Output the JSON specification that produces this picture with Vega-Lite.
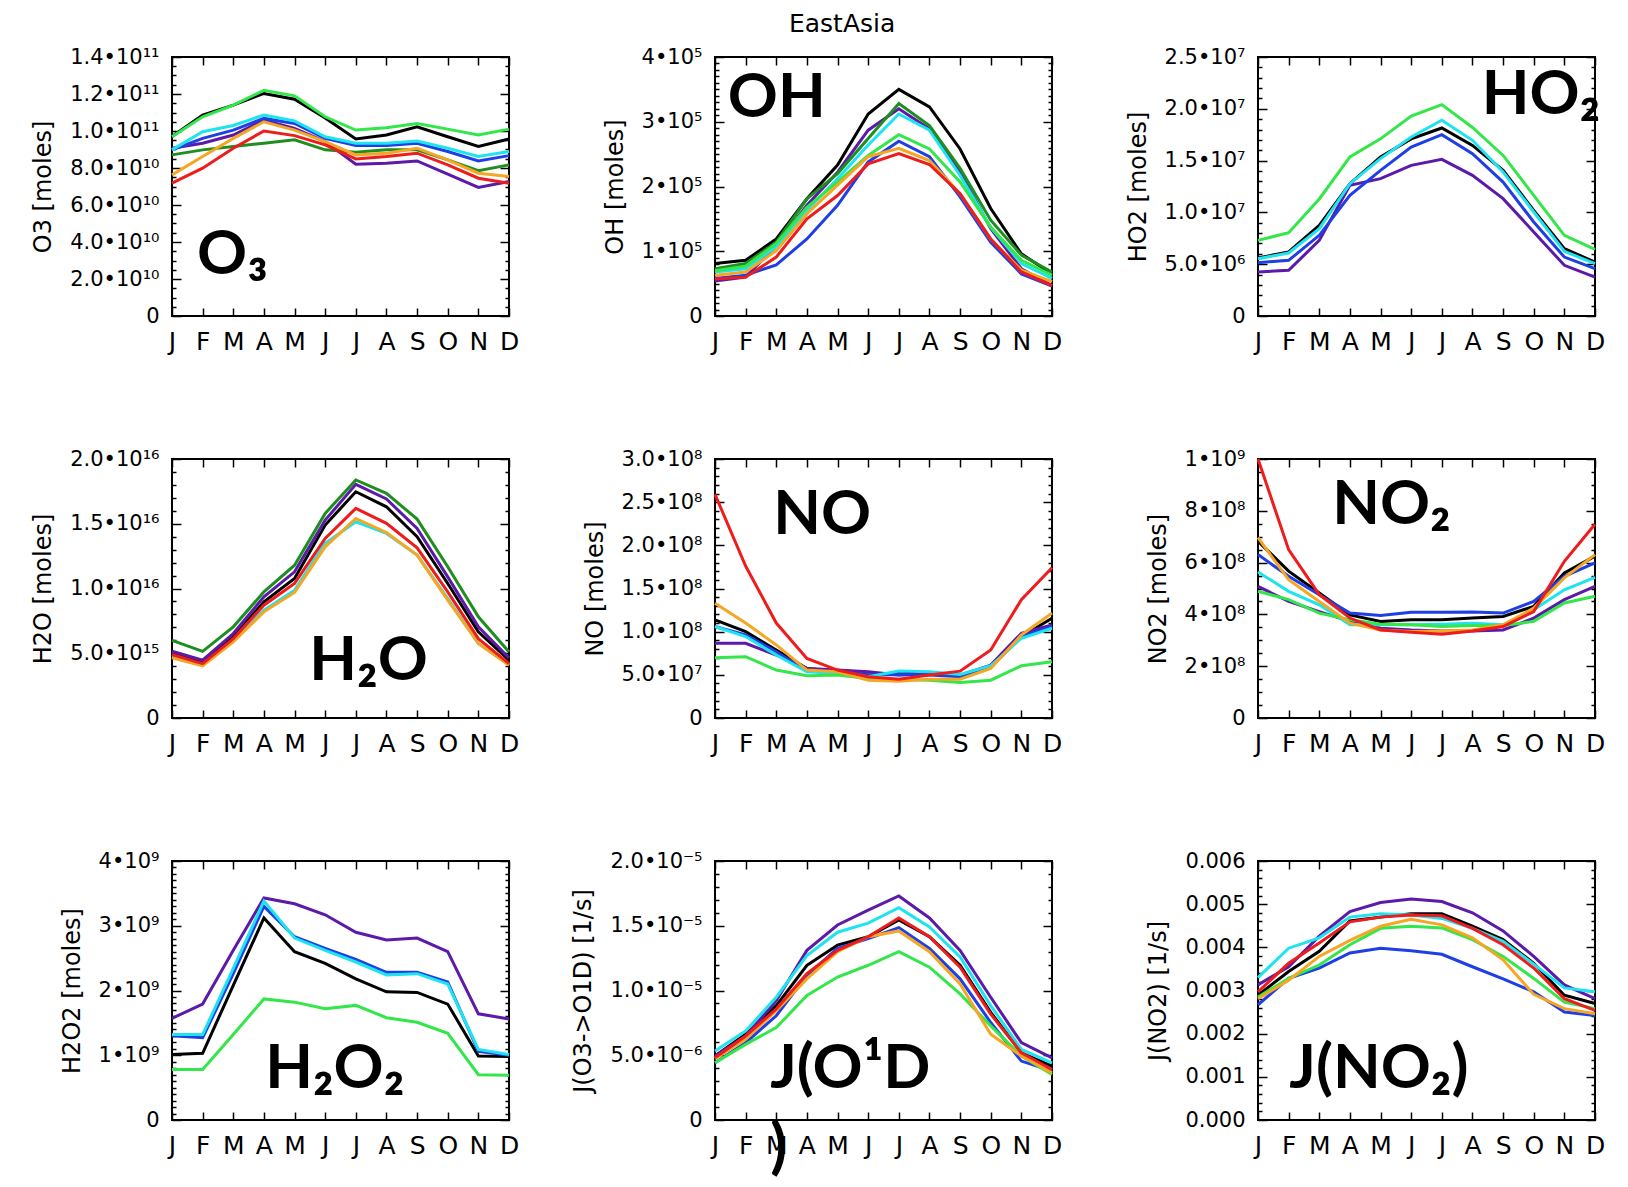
{
"$schema": "https://vega.github.io/schema/vega-lite/v6.json",
"background": "white",
"padding": {"left": 30, "top": 12, "right": 10, "bottom": 10},
"title": {"text": "EastAsia", "font": "DejaVu Sans", "fontSize": 25, "fontWeight": "normal", "color": "black", "anchor": "middle", "dx": 24, "offset": 8},
"datasets": {
"O3": [
{"s":"black","m":1,"v":9.7e10},{"s":"black","m":2,"v":10.86e10},{"s":"black","m":3,"v":11.4e10},{"s":"black","m":4,"v":12.03e10},{"s":"black","m":5,"v":11.72e10},{"s":"black","m":6,"v":10.7e10},{"s":"black","m":7,"v":9.57e10},{"s":"black","m":8,"v":9.78e10},{"s":"black","m":9,"v":10.23e10},{"s":"black","m":10,"v":9.69e10},{"s":"black","m":11,"v":9.16e10},{"s":"black","m":12,"v":9.57e10},
{"s":"purple","m":1,"v":9.07e10},{"s":"purple","m":2,"v":9.34e10},{"s":"purple","m":3,"v":9.78e10},{"s":"purple","m":4,"v":10.59e10},{"s":"purple","m":5,"v":10.14e10},{"s":"purple","m":6,"v":9.43e10},{"s":"purple","m":7,"v":8.2e10},{"s":"purple","m":8,"v":8.26e10},{"s":"purple","m":9,"v":8.38e10},{"s":"purple","m":10,"v":7.67e10},{"s":"purple","m":11,"v":6.95e10},{"s":"purple","m":12,"v":7.27e10},
{"s":"blue","m":1,"v":8.98e10},{"s":"blue","m":2,"v":9.6e10},{"s":"blue","m":3,"v":10.05e10},{"s":"blue","m":4,"v":10.68e10},{"s":"blue","m":5,"v":10.41e10},{"s":"blue","m":6,"v":9.6e10},{"s":"blue","m":7,"v":9.21e10},{"s":"blue","m":8,"v":9.21e10},{"s":"blue","m":9,"v":9.34e10},{"s":"blue","m":10,"v":8.89e10},{"s":"blue","m":11,"v":8.38e10},{"s":"blue","m":12,"v":8.67e10},
{"s":"cyan","m":1,"v":8.98e10},{"s":"cyan","m":2,"v":9.96e10},{"s":"cyan","m":3,"v":10.3e10},{"s":"cyan","m":4,"v":10.86e10},{"s":"cyan","m":5,"v":10.54e10},{"s":"cyan","m":6,"v":9.69e10},{"s":"cyan","m":7,"v":9.34e10},{"s":"cyan","m":8,"v":9.34e10},{"s":"cyan","m":9,"v":9.46e10},{"s":"cyan","m":10,"v":9.07e10},{"s":"cyan","m":11,"v":8.62e10},{"s":"cyan","m":12,"v":8.89e10},
{"s":"green","m":1,"v":8.71e10},{"s":"green","m":2,"v":8.98e10},{"s":"green","m":3,"v":9.16e10},{"s":"green","m":4,"v":9.34e10},{"s":"green","m":5,"v":9.52e10},{"s":"green","m":6,"v":8.98e10},{"s":"green","m":7,"v":8.85e10},{"s":"green","m":8,"v":8.98e10},{"s":"green","m":9,"v":8.98e10},{"s":"green","m":10,"v":8.44e10},{"s":"green","m":11,"v":7.85e10},{"s":"green","m":12,"v":8.17e10},
{"s":"lime","m":1,"v":9.69e10},{"s":"lime","m":2,"v":10.77e10},{"s":"lime","m":3,"v":11.4e10},{"s":"lime","m":4,"v":12.2e10},{"s":"lime","m":5,"v":11.9e10},{"s":"lime","m":6,"v":10.77e10},{"s":"lime","m":7,"v":10.05e10},{"s":"lime","m":8,"v":10.18e10},{"s":"lime","m":9,"v":10.41e10},{"s":"lime","m":10,"v":10.1e10},{"s":"lime","m":11,"v":9.78e10},{"s":"lime","m":12,"v":10.1e10},
{"s":"orange","m":1,"v":7.63e10},{"s":"orange","m":2,"v":8.62e10},{"s":"orange","m":3,"v":9.6e10},{"s":"orange","m":4,"v":10.5e10},{"s":"orange","m":5,"v":10.05e10},{"s":"orange","m":6,"v":9.43e10},{"s":"orange","m":7,"v":8.71e10},{"s":"orange","m":8,"v":8.8e10},{"s":"orange","m":9,"v":9.07e10},{"s":"orange","m":10,"v":8.44e10},{"s":"orange","m":11,"v":7.72e10},{"s":"orange","m":12,"v":7.54e10},
{"s":"red","m":1,"v":7.18e10},{"s":"red","m":2,"v":7.99e10},{"s":"red","m":3,"v":9.07e10},{"s":"red","m":4,"v":10.0e10},{"s":"red","m":5,"v":9.75e10},{"s":"red","m":6,"v":9.25e10},{"s":"red","m":7,"v":8.49e10},{"s":"red","m":8,"v":8.62e10},{"s":"red","m":9,"v":8.8e10},{"s":"red","m":10,"v":8.17e10},{"s":"red","m":11,"v":7.45e10},{"s":"red","m":12,"v":7.18e10}
],
"OH": [
{"s":"black","m":1,"v":0.81e5},{"s":"black","m":2,"v":0.86e5},{"s":"black","m":3,"v":1.19e5},{"s":"black","m":4,"v":1.81e5},{"s":"black","m":5,"v":2.33e5},{"s":"black","m":6,"v":3.12e5},{"s":"black","m":7,"v":3.5e5},{"s":"black","m":8,"v":3.23e5},{"s":"black","m":9,"v":2.58e5},{"s":"black","m":10,"v":1.66e5},{"s":"black","m":11,"v":0.96e5},{"s":"black","m":12,"v":0.65e5},
{"s":"purple","m":1,"v":0.54e5},{"s":"purple","m":2,"v":0.6e5},{"s":"purple","m":3,"v":1.09e5},{"s":"purple","m":4,"v":1.71e5},{"s":"purple","m":5,"v":2.22e5},{"s":"purple","m":6,"v":2.87e5},{"s":"purple","m":7,"v":3.2e5},{"s":"purple","m":8,"v":2.89e5},{"s":"purple","m":9,"v":2.22e5},{"s":"purple","m":10,"v":1.35e5},{"s":"purple","m":11,"v":0.73e5},{"s":"purple","m":12,"v":0.47e5},
{"s":"blue","m":1,"v":0.58e5},{"s":"blue","m":2,"v":0.63e5},{"s":"blue","m":3,"v":0.79e5},{"s":"blue","m":4,"v":1.19e5},{"s":"blue","m":5,"v":1.71e5},{"s":"blue","m":6,"v":2.38e5},{"s":"blue","m":7,"v":2.7e5},{"s":"blue","m":8,"v":2.46e5},{"s":"blue","m":9,"v":1.84e5},{"s":"blue","m":10,"v":1.14e5},{"s":"blue","m":11,"v":0.65e5},{"s":"blue","m":12,"v":0.46e5},
{"s":"cyan","m":1,"v":0.68e5},{"s":"cyan","m":2,"v":0.73e5},{"s":"cyan","m":3,"v":1.07e5},{"s":"cyan","m":4,"v":1.63e5},{"s":"cyan","m":5,"v":2.12e5},{"s":"cyan","m":6,"v":2.64e5},{"s":"cyan","m":7,"v":3.12e5},{"s":"cyan","m":8,"v":2.87e5},{"s":"cyan","m":9,"v":2.17e5},{"s":"cyan","m":10,"v":1.37e5},{"s":"cyan","m":11,"v":0.81e5},{"s":"cyan","m":12,"v":0.58e5},
{"s":"green","m":1,"v":0.73e5},{"s":"green","m":2,"v":0.81e5},{"s":"green","m":3,"v":1.14e5},{"s":"green","m":4,"v":1.81e5},{"s":"green","m":5,"v":2.2e5},{"s":"green","m":6,"v":2.74e5},{"s":"green","m":7,"v":3.28e5},{"s":"green","m":8,"v":2.94e5},{"s":"green","m":9,"v":2.28e5},{"s":"green","m":10,"v":1.48e5},{"s":"green","m":11,"v":0.94e5},{"s":"green","m":12,"v":0.68e5},
{"s":"lime","m":1,"v":0.7e5},{"s":"lime","m":2,"v":0.77e5},{"s":"lime","m":3,"v":1.12e5},{"s":"lime","m":4,"v":1.68e5},{"s":"lime","m":5,"v":2.07e5},{"s":"lime","m":6,"v":2.48e5},{"s":"lime","m":7,"v":2.8e5},{"s":"lime","m":8,"v":2.58e5},{"s":"lime","m":9,"v":2.07e5},{"s":"lime","m":10,"v":1.37e5},{"s":"lime","m":11,"v":0.86e5},{"s":"lime","m":12,"v":0.63e5},
{"s":"orange","m":1,"v":0.63e5},{"s":"orange","m":2,"v":0.68e5},{"s":"orange","m":3,"v":1.01e5},{"s":"orange","m":4,"v":1.58e5},{"s":"orange","m":5,"v":2.02e5},{"s":"orange","m":6,"v":2.46e5},{"s":"orange","m":7,"v":2.59e5},{"s":"orange","m":8,"v":2.4e5},{"s":"orange","m":9,"v":1.89e5},{"s":"orange","m":10,"v":1.19e5},{"s":"orange","m":11,"v":0.71e5},{"s":"orange","m":12,"v":0.53e5},
{"s":"red","m":1,"v":0.57e5},{"s":"red","m":2,"v":0.6e5},{"s":"red","m":3,"v":0.91e5},{"s":"red","m":4,"v":1.5e5},{"s":"red","m":5,"v":1.86e5},{"s":"red","m":6,"v":2.35e5},{"s":"red","m":7,"v":2.51e5},{"s":"red","m":8,"v":2.34e5},{"s":"red","m":9,"v":1.89e5},{"s":"red","m":10,"v":1.19e5},{"s":"red","m":11,"v":0.68e5},{"s":"red","m":12,"v":0.47e5}
],
"HO2": [
{"s":"black","m":1,"v":5.6e6},{"s":"black","m":2,"v":6.18e6},{"s":"black","m":3,"v":8.75e6},{"s":"black","m":4,"v":12.77e6},{"s":"black","m":5,"v":15.35e6},{"s":"black","m":6,"v":17.1e6},{"s":"black","m":7,"v":18.15e6},{"s":"black","m":8,"v":16.47e6},{"s":"black","m":9,"v":14.06e6},{"s":"black","m":10,"v":10.2e6},{"s":"black","m":11,"v":6.5e6},{"s":"black","m":12,"v":5.21e6},
{"s":"purple","m":1,"v":4.25e6},{"s":"purple","m":2,"v":4.41e6},{"s":"purple","m":3,"v":7.3e6},{"s":"purple","m":4,"v":12.61e6},{"s":"purple","m":5,"v":13.26e6},{"s":"purple","m":6,"v":14.54e6},{"s":"purple","m":7,"v":15.12e6},{"s":"purple","m":8,"v":13.58e6},{"s":"purple","m":9,"v":11.33e6},{"s":"purple","m":10,"v":8.11e6},{"s":"purple","m":11,"v":4.89e6},{"s":"purple","m":12,"v":3.76e6},
{"s":"blue","m":1,"v":5.15e6},{"s":"blue","m":2,"v":5.37e6},{"s":"blue","m":3,"v":7.79e6},{"s":"blue","m":4,"v":11.65e6},{"s":"blue","m":5,"v":14.06e6},{"s":"blue","m":6,"v":16.31e6},{"s":"blue","m":7,"v":17.5e6},{"s":"blue","m":8,"v":15.67e6},{"s":"blue","m":9,"v":12.93e6},{"s":"blue","m":10,"v":9.07e6},{"s":"blue","m":11,"v":5.69e6},{"s":"blue","m":12,"v":4.57e6},
{"s":"cyan","m":1,"v":5.53e6},{"s":"cyan","m":2,"v":6.08e6},{"s":"cyan","m":3,"v":8.43e6},{"s":"cyan","m":4,"v":12.77e6},{"s":"cyan","m":5,"v":15.19e6},{"s":"cyan","m":6,"v":17.28e6},{"s":"cyan","m":7,"v":18.89e6},{"s":"cyan","m":8,"v":16.96e6},{"s":"cyan","m":9,"v":13.9e6},{"s":"cyan","m":10,"v":10.04e6},{"s":"cyan","m":11,"v":6.24e6},{"s":"cyan","m":12,"v":5.05e6},
{"s":"lime","m":1,"v":7.3e6},{"s":"lime","m":2,"v":8.04e6},{"s":"lime","m":3,"v":11.3e6},{"s":"lime","m":4,"v":15.35e6},{"s":"lime","m":5,"v":17.1e6},{"s":"lime","m":6,"v":19.3e6},{"s":"lime","m":7,"v":20.4e6},{"s":"lime","m":8,"v":18.2e6},{"s":"lime","m":9,"v":15.5e6},{"s":"lime","m":10,"v":11.65e6},{"s":"lime","m":11,"v":7.79e6},{"s":"lime","m":12,"v":6.43e6}
],
"H2O": [
{"s":"black","m":1,"v":4.97e15},{"s":"black","m":2,"v":4.33e15},{"s":"black","m":3,"v":6.26e15},{"s":"black","m":4,"v":8.97e15},{"s":"black","m":5,"v":10.77e15},{"s":"black","m":6,"v":14.9e15},{"s":"black","m":7,"v":17.47e15},{"s":"black","m":8,"v":16.31e15},{"s":"black","m":9,"v":14.0e15},{"s":"black","m":10,"v":10.39e15},{"s":"black","m":11,"v":6.65e15},{"s":"black","m":12,"v":4.46e15},
{"s":"purple","m":1,"v":5.15e15},{"s":"purple","m":2,"v":4.46e15},{"s":"purple","m":3,"v":6.52e15},{"s":"purple","m":4,"v":9.36e15},{"s":"purple","m":5,"v":11.29e15},{"s":"purple","m":6,"v":15.28e15},{"s":"purple","m":7,"v":18.04e15},{"s":"purple","m":8,"v":16.91e15},{"s":"purple","m":9,"v":14.64e15},{"s":"purple","m":10,"v":10.9e15},{"s":"purple","m":11,"v":7.04e15},{"s":"purple","m":12,"v":4.64e15},
{"s":"cyan","m":1,"v":4.72e15},{"s":"cyan","m":2,"v":4.12e15},{"s":"cyan","m":3,"v":6.0e15},{"s":"cyan","m":4,"v":8.32e15},{"s":"cyan","m":5,"v":9.87e15},{"s":"cyan","m":6,"v":13.48e15},{"s":"cyan","m":7,"v":15.15e15},{"s":"cyan","m":8,"v":14.25e15},{"s":"cyan","m":9,"v":12.58e15},{"s":"cyan","m":10,"v":9.23e15},{"s":"cyan","m":11,"v":5.75e15},{"s":"cyan","m":12,"v":4.12e15},
{"s":"green","m":1,"v":6.0e15},{"s":"green","m":2,"v":5.15e15},{"s":"green","m":3,"v":7.04e15},{"s":"green","m":4,"v":9.74e15},{"s":"green","m":5,"v":11.8e15},{"s":"green","m":6,"v":15.8e15},{"s":"green","m":7,"v":18.38e15},{"s":"green","m":8,"v":17.35e15},{"s":"green","m":9,"v":15.36e15},{"s":"green","m":10,"v":11.68e15},{"s":"green","m":11,"v":7.81e15},{"s":"green","m":12,"v":5.1e15},
{"s":"orange","m":1,"v":4.64e15},{"s":"orange","m":2,"v":4.02e15},{"s":"orange","m":3,"v":5.88e15},{"s":"orange","m":4,"v":8.2e15},{"s":"orange","m":5,"v":9.69e15},{"s":"orange","m":6,"v":13.22e15},{"s":"orange","m":7,"v":15.41e15},{"s":"orange","m":8,"v":14.33e15},{"s":"orange","m":9,"v":12.58e15},{"s":"orange","m":10,"v":9.1e15},{"s":"orange","m":11,"v":5.75e15},{"s":"orange","m":12,"v":4.07e15},
{"s":"red","m":1,"v":4.9e15},{"s":"red","m":2,"v":4.2e15},{"s":"red","m":3,"v":6.13e15},{"s":"red","m":4,"v":8.71e15},{"s":"red","m":5,"v":10.39e15},{"s":"red","m":6,"v":13.87e15},{"s":"red","m":7,"v":16.19e15},{"s":"red","m":8,"v":15.03e15},{"s":"red","m":9,"v":13.14e15},{"s":"red","m":10,"v":9.74e15},{"s":"red","m":11,"v":6.13e15},{"s":"red","m":12,"v":4.2e15}
],
"NO": [
{"s":"black","m":1,"v":11.37e7},{"s":"black","m":2,"v":10.0e7},{"s":"black","m":3,"v":7.88e7},{"s":"black","m":4,"v":5.74e7},{"s":"black","m":5,"v":5.43e7},{"s":"black","m":6,"v":4.97e7},{"s":"black","m":7,"v":5.16e7},{"s":"black","m":8,"v":5.16e7},{"s":"black","m":9,"v":4.97e7},{"s":"black","m":10,"v":5.94e7},{"s":"black","m":11,"v":9.43e7},{"s":"black","m":12,"v":11.56e7},
{"s":"purple","m":1,"v":8.65e7},{"s":"purple","m":2,"v":8.65e7},{"s":"purple","m":3,"v":7.3e7},{"s":"purple","m":4,"v":5.74e7},{"s":"purple","m":5,"v":5.55e7},{"s":"purple","m":6,"v":5.36e7},{"s":"purple","m":7,"v":4.97e7},{"s":"purple","m":8,"v":5.16e7},{"s":"purple","m":9,"v":4.97e7},{"s":"purple","m":10,"v":6.13e7},{"s":"purple","m":11,"v":9.82e7},{"s":"purple","m":12,"v":10.79e7},
{"s":"blue","m":1,"v":10.6e7},{"s":"blue","m":2,"v":9.62e7},{"s":"blue","m":3,"v":7.68e7},{"s":"blue","m":4,"v":5.43e7},{"s":"blue","m":5,"v":5.36e7},{"s":"blue","m":6,"v":4.97e7},{"s":"blue","m":7,"v":5.04e7},{"s":"blue","m":8,"v":4.97e7},{"s":"blue","m":9,"v":4.77e7},{"s":"blue","m":10,"v":5.94e7},{"s":"blue","m":11,"v":9.43e7},{"s":"blue","m":12,"v":10.6e7},
{"s":"cyan","m":1,"v":10.6e7},{"s":"cyan","m":2,"v":9.43e7},{"s":"cyan","m":3,"v":7.3e7},{"s":"cyan","m":4,"v":5.36e7},{"s":"cyan","m":5,"v":5.16e7},{"s":"cyan","m":6,"v":4.77e7},{"s":"cyan","m":7,"v":5.43e7},{"s":"cyan","m":8,"v":5.36e7},{"s":"cyan","m":9,"v":5.04e7},{"s":"cyan","m":10,"v":6.05e7},{"s":"cyan","m":11,"v":9.24e7},{"s":"cyan","m":12,"v":10.4e7},
{"s":"lime","m":1,"v":6.98e7},{"s":"lime","m":2,"v":7.1e7},{"s":"lime","m":3,"v":5.55e7},{"s":"lime","m":4,"v":4.89e7},{"s":"lime","m":5,"v":4.97e7},{"s":"lime","m":6,"v":4.58e7},{"s":"lime","m":7,"v":4.5e7},{"s":"lime","m":8,"v":4.38e7},{"s":"lime","m":9,"v":4.11e7},{"s":"lime","m":10,"v":4.38e7},{"s":"lime","m":11,"v":6.05e7},{"s":"lime","m":12,"v":6.52e7},
{"s":"orange","m":1,"v":13.3e7},{"s":"orange","m":2,"v":11.0e7},{"s":"orange","m":3,"v":8.46e7},{"s":"orange","m":4,"v":5.55e7},{"s":"orange","m":5,"v":5.36e7},{"s":"orange","m":6,"v":4.38e7},{"s":"orange","m":7,"v":4.27e7},{"s":"orange","m":8,"v":4.5e7},{"s":"orange","m":9,"v":4.5e7},{"s":"orange","m":10,"v":5.74e7},{"s":"orange","m":11,"v":9.62e7},{"s":"orange","m":12,"v":12.15e7},
{"s":"red","m":1,"v":25.9e7},{"s":"red","m":2,"v":17.6e7},{"s":"red","m":3,"v":11.0e7},{"s":"red","m":4,"v":6.9e7},{"s":"red","m":5,"v":5.55e7},{"s":"red","m":6,"v":4.77e7},{"s":"red","m":7,"v":4.5e7},{"s":"red","m":8,"v":4.97e7},{"s":"red","m":9,"v":5.43e7},{"s":"red","m":10,"v":7.88e7},{"s":"red","m":11,"v":13.7e7},{"s":"red","m":12,"v":17.4e7}
],
"NO2": [
{"s":"black","m":1,"v":6.83e8},{"s":"black","m":2,"v":5.67e8},{"s":"black","m":3,"v":4.83e8},{"s":"black","m":4,"v":3.98e8},{"s":"black","m":5,"v":3.73e8},{"s":"black","m":6,"v":3.79e8},{"s":"black","m":7,"v":3.79e8},{"s":"black","m":8,"v":3.86e8},{"s":"black","m":9,"v":3.92e8},{"s":"black","m":10,"v":4.31e8},{"s":"black","m":11,"v":5.6e8},{"s":"black","m":12,"v":6.25e8},
{"s":"purple","m":1,"v":5.08e8},{"s":"purple","m":2,"v":4.5e8},{"s":"purple","m":3,"v":4.11e8},{"s":"purple","m":4,"v":3.73e8},{"s":"purple","m":5,"v":3.47e8},{"s":"purple","m":6,"v":3.4e8},{"s":"purple","m":7,"v":3.36e8},{"s":"purple","m":8,"v":3.36e8},{"s":"purple","m":9,"v":3.4e8},{"s":"purple","m":10,"v":3.86e8},{"s":"purple","m":11,"v":4.57e8},{"s":"purple","m":12,"v":5.08e8},
{"s":"blue","m":1,"v":6.31e8},{"s":"blue","m":2,"v":5.47e8},{"s":"blue","m":3,"v":4.76e8},{"s":"blue","m":4,"v":4.05e8},{"s":"blue","m":5,"v":3.96e8},{"s":"blue","m":6,"v":4.08e8},{"s":"blue","m":7,"v":4.08e8},{"s":"blue","m":8,"v":4.09e8},{"s":"blue","m":9,"v":4.05e8},{"s":"blue","m":10,"v":4.5e8},{"s":"blue","m":11,"v":5.47e8},{"s":"blue","m":12,"v":5.99e8},
{"s":"cyan","m":1,"v":5.64e8},{"s":"cyan","m":2,"v":4.89e8},{"s":"cyan","m":3,"v":4.37e8},{"s":"cyan","m":4,"v":3.6e8},{"s":"cyan","m":5,"v":3.6e8},{"s":"cyan","m":6,"v":3.6e8},{"s":"cyan","m":7,"v":3.62e8},{"s":"cyan","m":8,"v":3.66e8},{"s":"cyan","m":9,"v":3.6e8},{"s":"cyan","m":10,"v":4.18e8},{"s":"cyan","m":11,"v":4.95e8},{"s":"cyan","m":12,"v":5.43e8},
{"s":"lime","m":1,"v":4.89e8},{"s":"lime","m":2,"v":4.57e8},{"s":"lime","m":3,"v":4.05e8},{"s":"lime","m":4,"v":3.79e8},{"s":"lime","m":5,"v":3.62e8},{"s":"lime","m":6,"v":3.6e8},{"s":"lime","m":7,"v":3.53e8},{"s":"lime","m":8,"v":3.57e8},{"s":"lime","m":9,"v":3.57e8},{"s":"lime","m":10,"v":3.73e8},{"s":"lime","m":11,"v":4.44e8},{"s":"lime","m":12,"v":4.7e8},
{"s":"orange","m":1,"v":6.96e8},{"s":"orange","m":2,"v":5.34e8},{"s":"orange","m":3,"v":4.5e8},{"s":"orange","m":4,"v":3.66e8},{"s":"orange","m":5,"v":3.4e8},{"s":"orange","m":6,"v":3.34e8},{"s":"orange","m":7,"v":3.36e8},{"s":"orange","m":8,"v":3.4e8},{"s":"orange","m":9,"v":3.6e8},{"s":"orange","m":10,"v":4.24e8},{"s":"orange","m":11,"v":5.41e8},{"s":"orange","m":12,"v":6.31e8},
{"s":"red","m":1,"v":10.0e8},{"s":"red","m":2,"v":6.5e8},{"s":"red","m":3,"v":4.76e8},{"s":"red","m":4,"v":3.86e8},{"s":"red","m":5,"v":3.4e8},{"s":"red","m":6,"v":3.31e8},{"s":"red","m":7,"v":3.23e8},{"s":"red","m":8,"v":3.36e8},{"s":"red","m":9,"v":3.53e8},{"s":"red","m":10,"v":4.11e8},{"s":"red","m":11,"v":6.05e8},{"s":"red","m":12,"v":7.48e8}
],
"H2O2": [
{"s":"black","m":1,"v":1.01e9},{"s":"black","m":2,"v":1.03e9},{"s":"black","m":3,"v":2.08e9},{"s":"black","m":4,"v":3.12e9},{"s":"black","m":5,"v":2.6e9},{"s":"black","m":6,"v":2.42e9},{"s":"black","m":7,"v":2.18e9},{"s":"black","m":8,"v":1.98e9},{"s":"black","m":9,"v":1.97e9},{"s":"black","m":10,"v":1.79e9},{"s":"black","m":11,"v":0.99e9},{"s":"black","m":12,"v":0.98e9},
{"s":"purple","m":1,"v":1.57e9},{"s":"purple","m":2,"v":1.79e9},{"s":"purple","m":3,"v":2.62e9},{"s":"purple","m":4,"v":3.43e9},{"s":"purple","m":5,"v":3.34e9},{"s":"purple","m":6,"v":3.17e9},{"s":"purple","m":7,"v":2.9e9},{"s":"purple","m":8,"v":2.78e9},{"s":"purple","m":9,"v":2.81e9},{"s":"purple","m":10,"v":2.6e9},{"s":"purple","m":11,"v":1.64e9},{"s":"purple","m":12,"v":1.56e9},
{"s":"blue","m":1,"v":1.3e9},{"s":"blue","m":2,"v":1.27e9},{"s":"blue","m":3,"v":2.26e9},{"s":"blue","m":4,"v":3.3e9},{"s":"blue","m":5,"v":2.83e9},{"s":"blue","m":6,"v":2.65e9},{"s":"blue","m":7,"v":2.48e9},{"s":"blue","m":8,"v":2.28e9},{"s":"blue","m":9,"v":2.28e9},{"s":"blue","m":10,"v":2.13e9},{"s":"blue","m":11,"v":1.06e9},{"s":"blue","m":12,"v":1.0e9},
{"s":"cyan","m":1,"v":1.32e9},{"s":"cyan","m":2,"v":1.32e9},{"s":"cyan","m":3,"v":2.34e9},{"s":"cyan","m":4,"v":3.38e9},{"s":"cyan","m":5,"v":2.81e9},{"s":"cyan","m":6,"v":2.62e9},{"s":"cyan","m":7,"v":2.44e9},{"s":"cyan","m":8,"v":2.24e9},{"s":"cyan","m":9,"v":2.26e9},{"s":"cyan","m":10,"v":2.1e9},{"s":"cyan","m":11,"v":1.09e9},{"s":"cyan","m":12,"v":1.01e9},
{"s":"lime","m":1,"v":0.78e9},{"s":"lime","m":2,"v":0.78e9},{"s":"lime","m":3,"v":1.32e9},{"s":"lime","m":4,"v":1.87e9},{"s":"lime","m":5,"v":1.82e9},{"s":"lime","m":6,"v":1.72e9},{"s":"lime","m":7,"v":1.77e9},{"s":"lime","m":8,"v":1.58e9},{"s":"lime","m":9,"v":1.51e9},{"s":"lime","m":10,"v":1.34e9},{"s":"lime","m":11,"v":0.7e9},{"s":"lime","m":12,"v":0.69e9}
],
"JO1D": [
{"s":"black","m":1,"v":4.94e-6},{"s":"black","m":2,"v":6.62e-6},{"s":"black","m":3,"v":8.83e-6},{"s":"black","m":4,"v":11.95e-6},{"s":"black","m":5,"v":13.5e-6},{"s":"black","m":6,"v":14.15e-6},{"s":"black","m":7,"v":15.45e-6},{"s":"black","m":8,"v":14.15e-6},{"s":"black","m":9,"v":11.95e-6},{"s":"black","m":10,"v":8.31e-6},{"s":"black","m":11,"v":5.19e-6},{"s":"black","m":12,"v":4.16e-6},
{"s":"purple","m":1,"v":4.94e-6},{"s":"purple","m":2,"v":6.49e-6},{"s":"purple","m":3,"v":9.22e-6},{"s":"purple","m":4,"v":13.1e-6},{"s":"purple","m":5,"v":15.06e-6},{"s":"purple","m":6,"v":16.2e-6},{"s":"purple","m":7,"v":17.3e-6},{"s":"purple","m":8,"v":15.6e-6},{"s":"purple","m":9,"v":13.1e-6},{"s":"purple","m":10,"v":9.48e-6},{"s":"purple","m":11,"v":5.97e-6},{"s":"purple","m":12,"v":4.8e-6},
{"s":"blue","m":1,"v":4.42e-6},{"s":"blue","m":2,"v":5.97e-6},{"s":"blue","m":3,"v":8.05e-6},{"s":"blue","m":4,"v":11.17e-6},{"s":"blue","m":5,"v":13.25e-6},{"s":"blue","m":6,"v":14.0e-6},{"s":"blue","m":7,"v":14.86e-6},{"s":"blue","m":8,"v":13.25e-6},{"s":"blue","m":9,"v":10.9e-6},{"s":"blue","m":10,"v":7.53e-6},{"s":"blue","m":11,"v":4.55e-6},{"s":"blue","m":12,"v":3.77e-6},
{"s":"cyan","m":1,"v":5.32e-6},{"s":"cyan","m":2,"v":6.88e-6},{"s":"cyan","m":3,"v":9.48e-6},{"s":"cyan","m":4,"v":12.7e-6},{"s":"cyan","m":5,"v":14.5e-6},{"s":"cyan","m":6,"v":15.2e-6},{"s":"cyan","m":7,"v":16.4e-6},{"s":"cyan","m":8,"v":14.9e-6},{"s":"cyan","m":9,"v":12.6e-6},{"s":"cyan","m":10,"v":8.83e-6},{"s":"cyan","m":11,"v":5.45e-6},{"s":"cyan","m":12,"v":4.42e-6},
{"s":"lime","m":1,"v":4.42e-6},{"s":"lime","m":2,"v":5.84e-6},{"s":"lime","m":3,"v":7.14e-6},{"s":"lime","m":4,"v":9.61e-6},{"s":"lime","m":5,"v":11.04e-6},{"s":"lime","m":6,"v":11.95e-6},{"s":"lime","m":7,"v":13.0e-6},{"s":"lime","m":8,"v":11.8e-6},{"s":"lime","m":9,"v":9.74e-6},{"s":"lime","m":10,"v":7.27e-6},{"s":"lime","m":11,"v":4.94e-6},{"s":"lime","m":12,"v":3.51e-6},
{"s":"orange","m":1,"v":4.73e-6},{"s":"orange","m":2,"v":6.23e-6},{"s":"orange","m":3,"v":8.44e-6},{"s":"orange","m":4,"v":10.9e-6},{"s":"orange","m":5,"v":13.0e-6},{"s":"orange","m":6,"v":14.15e-6},{"s":"orange","m":7,"v":14.6e-6},{"s":"orange","m":8,"v":13.0e-6},{"s":"orange","m":9,"v":10.5e-6},{"s":"orange","m":10,"v":6.62e-6},{"s":"orange","m":11,"v":4.94e-6},{"s":"orange","m":12,"v":3.64e-6},
{"s":"red","m":1,"v":4.8e-6},{"s":"red","m":2,"v":6.49e-6},{"s":"red","m":3,"v":8.57e-6},{"s":"red","m":4,"v":11.3e-6},{"s":"red","m":5,"v":13.1e-6},{"s":"red","m":6,"v":14.15e-6},{"s":"red","m":7,"v":15.6e-6},{"s":"red","m":8,"v":14.15e-6},{"s":"red","m":9,"v":11.8e-6},{"s":"red","m":10,"v":8.18e-6},{"s":"red","m":11,"v":5.19e-6},{"s":"red","m":12,"v":3.9e-6}
],
"JNO2": [
{"s":"black","m":1,"v":2.89e-3},{"s":"black","m":2,"v":3.44e-3},{"s":"black","m":3,"v":3.91e-3},{"s":"black","m":4,"v":4.61e-3},{"s":"black","m":5,"v":4.7e-3},{"s":"black","m":6,"v":4.78e-3},{"s":"black","m":7,"v":4.78e-3},{"s":"black","m":8,"v":4.49e-3},{"s":"black","m":9,"v":4.18e-3},{"s":"black","m":10,"v":3.63e-3},{"s":"black","m":11,"v":2.89e-3},{"s":"black","m":12,"v":2.7e-3},
{"s":"purple","m":1,"v":3.13e-3},{"s":"purple","m":2,"v":3.55e-3},{"s":"purple","m":3,"v":4.26e-3},{"s":"purple","m":4,"v":4.83e-3},{"s":"purple","m":5,"v":5.04e-3},{"s":"purple","m":6,"v":5.12e-3},{"s":"purple","m":7,"v":5.06e-3},{"s":"purple","m":8,"v":4.8e-3},{"s":"purple","m":9,"v":4.38e-3},{"s":"purple","m":10,"v":3.79e-3},{"s":"purple","m":11,"v":3.13e-3},{"s":"purple","m":12,"v":2.81e-3},
{"s":"blue","m":1,"v":2.67e-3},{"s":"blue","m":2,"v":3.28e-3},{"s":"blue","m":3,"v":3.52e-3},{"s":"blue","m":4,"v":3.87e-3},{"s":"blue","m":5,"v":3.98e-3},{"s":"blue","m":6,"v":3.92e-3},{"s":"blue","m":7,"v":3.84e-3},{"s":"blue","m":8,"v":3.55e-3},{"s":"blue","m":9,"v":3.27e-3},{"s":"blue","m":10,"v":2.97e-3},{"s":"blue","m":11,"v":2.5e-3},{"s":"blue","m":12,"v":2.42e-3},
{"s":"cyan","m":1,"v":3.3e-3},{"s":"cyan","m":2,"v":3.98e-3},{"s":"cyan","m":3,"v":4.22e-3},{"s":"cyan","m":4,"v":4.7e-3},{"s":"cyan","m":5,"v":4.78e-3},{"s":"cyan","m":6,"v":4.75e-3},{"s":"cyan","m":7,"v":4.67e-3},{"s":"cyan","m":8,"v":4.44e-3},{"s":"cyan","m":9,"v":4.14e-3},{"s":"cyan","m":10,"v":3.61e-3},{"s":"cyan","m":11,"v":3.06e-3},{"s":"cyan","m":12,"v":2.97e-3},
{"s":"lime","m":1,"v":2.85e-3},{"s":"lime","m":2,"v":3.28e-3},{"s":"lime","m":3,"v":3.59e-3},{"s":"lime","m":4,"v":4.06e-3},{"s":"lime","m":5,"v":4.44e-3},{"s":"lime","m":6,"v":4.49e-3},{"s":"lime","m":7,"v":4.45e-3},{"s":"lime","m":8,"v":4.18e-3},{"s":"lime","m":9,"v":3.79e-3},{"s":"lime","m":10,"v":3.28e-3},{"s":"lime","m":11,"v":2.73e-3},{"s":"lime","m":12,"v":2.58e-3},
{"s":"orange","m":1,"v":2.81e-3},{"s":"orange","m":2,"v":3.24e-3},{"s":"orange","m":3,"v":3.79e-3},{"s":"orange","m":4,"v":4.16e-3},{"s":"orange","m":5,"v":4.49e-3},{"s":"orange","m":6,"v":4.65e-3},{"s":"orange","m":7,"v":4.52e-3},{"s":"orange","m":8,"v":4.22e-3},{"s":"orange","m":9,"v":3.71e-3},{"s":"orange","m":10,"v":2.91e-3},{"s":"orange","m":11,"v":2.58e-3},{"s":"orange","m":12,"v":2.46e-3},
{"s":"red","m":1,"v":2.97e-3},{"s":"red","m":2,"v":3.63e-3},{"s":"red","m":3,"v":4.1e-3},{"s":"red","m":4,"v":4.59e-3},{"s":"red","m":5,"v":4.7e-3},{"s":"red","m":6,"v":4.75e-3},{"s":"red","m":7,"v":4.73e-3},{"s":"red","m":8,"v":4.44e-3},{"s":"red","m":9,"v":4.06e-3},{"s":"red","m":10,"v":3.52e-3},{"s":"red","m":11,"v":2.81e-3},{"s":"red","m":12,"v":2.54e-3}
]
},
"columns": 3,
"spacing": {"row": 143, "column": 206},
"bounds": "flush",
"concat": [
{"width": 337, "height": 259, "resolve": {"axis": {"x": "independent", "y": "independent"}},
 "layer": [
  {"data": {"name": "O3"}, "mark": {"type": "line", "strokeWidth": 3},
   "encoding": {
    "x": {"field": "m", "type": "quantitative", "scale": {"domain": [1, 12], "nice": false, "zero": false}, "axis": {"orient": "bottom", "title": null, "values": [1,2,3,4,5,6,7,8,9,10,11,12], "labelExpr": "['J','F','M','A','M','J','J','A','S','O','N','D'][datum.value-1]", "tickSize": -8}},
    "y": {"field": "v", "type": "quantitative", "scale": {"domain": [0, 1.4e11], "nice": false}, "axis": {"title": "O3 [moles]", "values": [0,5e9,1e10,1.5e10,2e10,2.5e10,3e10,3.5e10,4e10,4.5e10,5e10,5.5e10,6e10,6.5e10,7e10,7.5e10,8e10,8.5e10,9e10,9.5e10,1e11,1.05e11,1.1e11,1.15e11,1.2e11,1.25e11,1.3e11,1.35e11,1.4e11], "labelExpr": "abs(datum.value/2e10-round(datum.value/2e10))<1e-6 ? ['0','2.0•10¹⁰','4.0•10¹⁰','6.0•10¹⁰','8.0•10¹⁰','1.0•10¹¹','1.2•10¹¹','1.4•10¹¹'][round(datum.value/2e10)] : ''", "tickSize": {"condition": {"test": "abs(datum.value/2e10-round(datum.value/2e10))<1e-6", "value": -9}, "value": -4}}},
    "color": {"field": "s", "type": "nominal", "scale": {"domain": ["black","purple","blue","cyan","green","lime","orange","red"], "range": ["#000000","#5c1aa8","#1f3fe6","#1ee4f0","#1e8f1e","#33e64a","#f5a623","#ee1c1c"]}, "legend": null}
   }},
  {"data": {"values": [{"t": "O₃", "m": 1.82, "v": 2.26e10}]}, "mark": {"type": "text", "font": "Lato", "fontWeight": "bold", "fontSize": 62, "align": "left", "baseline": "alphabetic", "color": "black"},
   "encoding": {
    "x": {"field": "m", "type": "quantitative", "axis": {"orient": "top", "title": null, "labels": false, "values": [1,2,3,4,5,6,7,8,9,10,11,12], "tickSize": -8}},
    "y": {"field": "v", "type": "quantitative", "axis": {"orient": "right", "title": null, "labels": false, "values": [0,5e9,1e10,1.5e10,2e10,2.5e10,3e10,3.5e10,4e10,4.5e10,5e10,5.5e10,6e10,6.5e10,7e10,7.5e10,8e10,8.5e10,9e10,9.5e10,1e11,1.05e11,1.1e11,1.15e11,1.2e11,1.25e11,1.3e11,1.35e11,1.4e11], "tickSize": {"condition": {"test": "abs(datum.value/2e10-round(datum.value/2e10))<1e-6", "value": -9}, "value": -4}}},
    "text": {"field": "t"}
   }}
 ]},
{"width": 337, "height": 259, "resolve": {"axis": {"x": "independent", "y": "independent"}},
 "layer": [
  {"data": {"name": "OH"}, "mark": {"type": "line", "strokeWidth": 3},
   "encoding": {
    "x": {"field": "m", "type": "quantitative", "scale": {"domain": [1, 12], "nice": false, "zero": false}, "axis": {"orient": "bottom", "title": null, "values": [1,2,3,4,5,6,7,8,9,10,11,12], "labelExpr": "['J','F','M','A','M','J','J','A','S','O','N','D'][datum.value-1]", "tickSize": -8}},
    "y": {"field": "v", "type": "quantitative", "scale": {"domain": [0, 4e5], "nice": false}, "axis": {"title": "OH [moles]", "values": [0,10000,20000,30000,40000,50000,60000,70000,80000,90000,100000,110000,120000,130000,140000,150000,160000,170000,180000,190000,200000,210000,220000,230000,240000,250000,260000,270000,280000,290000,300000,310000,320000,330000,340000,350000,360000,370000,380000,390000,400000], "labelExpr": "abs(datum.value/1e5-round(datum.value/1e5))<1e-6 ? ['0','1•10⁵','2•10⁵','3•10⁵','4•10⁵'][round(datum.value/1e5)] : ''", "tickSize": {"condition": {"test": "abs(datum.value/1e5-round(datum.value/1e5))<1e-6", "value": -9}, "value": -4}}},
    "color": {"field": "s", "type": "nominal", "scale": {"domain": ["black","purple","blue","cyan","green","lime","orange","red"], "range": ["#000000","#5c1aa8","#1f3fe6","#1ee4f0","#1e8f1e","#33e64a","#f5a623","#ee1c1c"]}, "legend": null}
   }},
  {"data": {"values": [{"t": "OH", "m": 1.42, "v": 3.07e5}]}, "mark": {"type": "text", "font": "Lato", "fontWeight": "bold", "fontSize": 62, "align": "left", "baseline": "alphabetic", "color": "black"},
   "encoding": {
    "x": {"field": "m", "type": "quantitative", "axis": {"orient": "top", "title": null, "labels": false, "values": [1,2,3,4,5,6,7,8,9,10,11,12], "tickSize": -8}},
    "y": {"field": "v", "type": "quantitative", "axis": {"orient": "right", "title": null, "labels": false, "values": [0,10000,20000,30000,40000,50000,60000,70000,80000,90000,100000,110000,120000,130000,140000,150000,160000,170000,180000,190000,200000,210000,220000,230000,240000,250000,260000,270000,280000,290000,300000,310000,320000,330000,340000,350000,360000,370000,380000,390000,400000], "tickSize": {"condition": {"test": "abs(datum.value/1e5-round(datum.value/1e5))<1e-6", "value": -9}, "value": -4}}},
    "text": {"field": "t"}
   }}
 ]},
{"width": 337, "height": 259, "resolve": {"axis": {"x": "independent", "y": "independent"}},
 "layer": [
  {"data": {"name": "HO2"}, "mark": {"type": "line", "strokeWidth": 3},
   "encoding": {
    "x": {"field": "m", "type": "quantitative", "scale": {"domain": [1, 12], "nice": false, "zero": false}, "axis": {"orient": "bottom", "title": null, "values": [1,2,3,4,5,6,7,8,9,10,11,12], "labelExpr": "['J','F','M','A','M','J','J','A','S','O','N','D'][datum.value-1]", "tickSize": -8}},
    "y": {"field": "v", "type": "quantitative", "scale": {"domain": [0, 2.5e7], "nice": false}, "axis": {"title": "HO2 [moles]", "values": [0,1e6,2e6,3e6,4e6,5e6,6e6,7e6,8e6,9e6,1e7,1.1e7,1.2e7,1.3e7,1.4e7,1.5e7,1.6e7,1.7e7,1.8e7,1.9e7,2e7,2.1e7,2.2e7,2.3e7,2.4e7,2.5e7], "labelExpr": "abs(datum.value/5e6-round(datum.value/5e6))<1e-6 ? ['0','5.0•10⁶','1.0•10⁷','1.5•10⁷','2.0•10⁷','2.5•10⁷'][round(datum.value/5e6)] : ''", "tickSize": {"condition": {"test": "abs(datum.value/5e6-round(datum.value/5e6))<1e-6", "value": -9}, "value": -4}}},
    "color": {"field": "s", "type": "nominal", "scale": {"domain": ["black","purple","blue","cyan","green","lime","orange","red"], "range": ["#000000","#5c1aa8","#1f3fe6","#1ee4f0","#1e8f1e","#33e64a","#f5a623","#ee1c1c"]}, "legend": null}
   }},
  {"data": {"values": [{"t": "HO₂", "m": 8.3, "v": 1.95e7}]}, "mark": {"type": "text", "font": "Lato", "fontWeight": "bold", "fontSize": 62, "align": "left", "baseline": "alphabetic", "color": "black"},
   "encoding": {
    "x": {"field": "m", "type": "quantitative", "axis": {"orient": "top", "title": null, "labels": false, "values": [1,2,3,4,5,6,7,8,9,10,11,12], "tickSize": -8}},
    "y": {"field": "v", "type": "quantitative", "axis": {"orient": "right", "title": null, "labels": false, "values": [0,1e6,2e6,3e6,4e6,5e6,6e6,7e6,8e6,9e6,1e7,1.1e7,1.2e7,1.3e7,1.4e7,1.5e7,1.6e7,1.7e7,1.8e7,1.9e7,2e7,2.1e7,2.2e7,2.3e7,2.4e7,2.5e7], "tickSize": {"condition": {"test": "abs(datum.value/5e6-round(datum.value/5e6))<1e-6", "value": -9}, "value": -4}}},
    "text": {"field": "t"}
   }}
 ]},
{"width": 337, "height": 259, "resolve": {"axis": {"x": "independent", "y": "independent"}},
 "layer": [
  {"data": {"name": "H2O"}, "mark": {"type": "line", "strokeWidth": 3},
   "encoding": {
    "x": {"field": "m", "type": "quantitative", "scale": {"domain": [1, 12], "nice": false, "zero": false}, "axis": {"orient": "bottom", "title": null, "values": [1,2,3,4,5,6,7,8,9,10,11,12], "labelExpr": "['J','F','M','A','M','J','J','A','S','O','N','D'][datum.value-1]", "tickSize": -8}},
    "y": {"field": "v", "type": "quantitative", "scale": {"domain": [0, 2e16], "nice": false}, "axis": {"title": "H2O [moles]", "values": [0,1e15,2e15,3e15,4e15,5e15,6e15,7e15,8e15,9e15,1e16,1.1e16,1.2e16,1.3e16,1.4e16,1.5e16,1.6e16,1.7e16,1.8e16,1.9e16,2e16], "labelExpr": "abs(datum.value/5e15-round(datum.value/5e15))<1e-6 ? ['0','5.0•10¹⁵','1.0•10¹⁶','1.5•10¹⁶','2.0•10¹⁶'][round(datum.value/5e15)] : ''", "tickSize": {"condition": {"test": "abs(datum.value/5e15-round(datum.value/5e15))<1e-6", "value": -9}, "value": -4}}},
    "color": {"field": "s", "type": "nominal", "scale": {"domain": ["black","purple","blue","cyan","green","lime","orange","red"], "range": ["#000000","#5c1aa8","#1f3fe6","#1ee4f0","#1e8f1e","#33e64a","#f5a623","#ee1c1c"]}, "legend": null}
   }},
  {"data": {"values": [{"t": "H₂O", "m": 5.48, "v": 2.93e15}]}, "mark": {"type": "text", "font": "Lato", "fontWeight": "bold", "fontSize": 62, "align": "left", "baseline": "alphabetic", "color": "black"},
   "encoding": {
    "x": {"field": "m", "type": "quantitative", "axis": {"orient": "top", "title": null, "labels": false, "values": [1,2,3,4,5,6,7,8,9,10,11,12], "tickSize": -8}},
    "y": {"field": "v", "type": "quantitative", "axis": {"orient": "right", "title": null, "labels": false, "values": [0,1e15,2e15,3e15,4e15,5e15,6e15,7e15,8e15,9e15,1e16,1.1e16,1.2e16,1.3e16,1.4e16,1.5e16,1.6e16,1.7e16,1.8e16,1.9e16,2e16], "tickSize": {"condition": {"test": "abs(datum.value/5e15-round(datum.value/5e15))<1e-6", "value": -9}, "value": -4}}},
    "text": {"field": "t"}
   }}
 ]},
{"width": 337, "height": 259, "resolve": {"axis": {"x": "independent", "y": "independent"}},
 "layer": [
  {"data": {"name": "NO"}, "mark": {"type": "line", "strokeWidth": 3},
   "encoding": {
    "x": {"field": "m", "type": "quantitative", "scale": {"domain": [1, 12], "nice": false, "zero": false}, "axis": {"orient": "bottom", "title": null, "values": [1,2,3,4,5,6,7,8,9,10,11,12], "labelExpr": "['J','F','M','A','M','J','J','A','S','O','N','D'][datum.value-1]", "tickSize": -8}},
    "y": {"field": "v", "type": "quantitative", "scale": {"domain": [0, 3e8], "nice": false}, "axis": {"title": "NO [moles]", "values": [0,1e7,2e7,3e7,4e7,5e7,6e7,7e7,8e7,9e7,1e8,1.1e8,1.2e8,1.3e8,1.4e8,1.5e8,1.6e8,1.7e8,1.8e8,1.9e8,2e8,2.1e8,2.2e8,2.3e8,2.4e8,2.5e8,2.6e8,2.7e8,2.8e8,2.9e8,3e8], "labelExpr": "abs(datum.value/5e7-round(datum.value/5e7))<1e-6 ? ['0','5.0•10⁷','1.0•10⁸','1.5•10⁸','2.0•10⁸','2.5•10⁸','3.0•10⁸'][round(datum.value/5e7)] : ''", "tickSize": {"condition": {"test": "abs(datum.value/5e7-round(datum.value/5e7))<1e-6", "value": -9}, "value": -4}}},
    "color": {"field": "s", "type": "nominal", "scale": {"domain": ["black","purple","blue","cyan","green","lime","orange","red"], "range": ["#000000","#5c1aa8","#1f3fe6","#1ee4f0","#1e8f1e","#33e64a","#f5a623","#ee1c1c"]}, "legend": null}
   }},
  {"data": {"values": [{"t": "NO", "m": 2.9, "v": 2.13e8}]}, "mark": {"type": "text", "font": "Lato", "fontWeight": "bold", "fontSize": 62, "align": "left", "baseline": "alphabetic", "color": "black"},
   "encoding": {
    "x": {"field": "m", "type": "quantitative", "axis": {"orient": "top", "title": null, "labels": false, "values": [1,2,3,4,5,6,7,8,9,10,11,12], "tickSize": -8}},
    "y": {"field": "v", "type": "quantitative", "axis": {"orient": "right", "title": null, "labels": false, "values": [0,1e7,2e7,3e7,4e7,5e7,6e7,7e7,8e7,9e7,1e8,1.1e8,1.2e8,1.3e8,1.4e8,1.5e8,1.6e8,1.7e8,1.8e8,1.9e8,2e8,2.1e8,2.2e8,2.3e8,2.4e8,2.5e8,2.6e8,2.7e8,2.8e8,2.9e8,3e8], "tickSize": {"condition": {"test": "abs(datum.value/5e7-round(datum.value/5e7))<1e-6", "value": -9}, "value": -4}}},
    "text": {"field": "t"}
   }}
 ]},
{"width": 337, "height": 259, "resolve": {"axis": {"x": "independent", "y": "independent"}},
 "layer": [
  {"data": {"name": "NO2"}, "mark": {"type": "line", "strokeWidth": 3},
   "encoding": {
    "x": {"field": "m", "type": "quantitative", "scale": {"domain": [1, 12], "nice": false, "zero": false}, "axis": {"orient": "bottom", "title": null, "values": [1,2,3,4,5,6,7,8,9,10,11,12], "labelExpr": "['J','F','M','A','M','J','J','A','S','O','N','D'][datum.value-1]", "tickSize": -8}},
    "y": {"field": "v", "type": "quantitative", "scale": {"domain": [0, 1e9], "nice": false}, "axis": {"title": "NO2 [moles]", "values": [0,5e7,1e8,1.5e8,2e8,2.5e8,3e8,3.5e8,4e8,4.5e8,5e8,5.5e8,6e8,6.5e8,7e8,7.5e8,8e8,8.5e8,9e8,9.5e8,1e9], "labelExpr": "abs(datum.value/2e8-round(datum.value/2e8))<1e-6 ? ['0','2•10⁸','4•10⁸','6•10⁸','8•10⁸','1•10⁹'][round(datum.value/2e8)] : ''", "tickSize": {"condition": {"test": "abs(datum.value/2e8-round(datum.value/2e8))<1e-6", "value": -9}, "value": -4}}},
    "color": {"field": "s", "type": "nominal", "scale": {"domain": ["black","purple","blue","cyan","green","lime","orange","red"], "range": ["#000000","#5c1aa8","#1f3fe6","#1ee4f0","#1e8f1e","#33e64a","#f5a623","#ee1c1c"]}, "legend": null}
   }},
  {"data": {"values": [{"t": "NO₂", "m": 3.42, "v": 7.49e8}]}, "mark": {"type": "text", "font": "Lato", "fontWeight": "bold", "fontSize": 62, "align": "left", "baseline": "alphabetic", "color": "black"},
   "encoding": {
    "x": {"field": "m", "type": "quantitative", "axis": {"orient": "top", "title": null, "labels": false, "values": [1,2,3,4,5,6,7,8,9,10,11,12], "tickSize": -8}},
    "y": {"field": "v", "type": "quantitative", "axis": {"orient": "right", "title": null, "labels": false, "values": [0,5e7,1e8,1.5e8,2e8,2.5e8,3e8,3.5e8,4e8,4.5e8,5e8,5.5e8,6e8,6.5e8,7e8,7.5e8,8e8,8.5e8,9e8,9.5e8,1e9], "tickSize": {"condition": {"test": "abs(datum.value/2e8-round(datum.value/2e8))<1e-6", "value": -9}, "value": -4}}},
    "text": {"field": "t"}
   }}
 ]},
{"width": 337, "height": 259, "resolve": {"axis": {"x": "independent", "y": "independent"}},
 "layer": [
  {"data": {"name": "H2O2"}, "mark": {"type": "line", "strokeWidth": 3},
   "encoding": {
    "x": {"field": "m", "type": "quantitative", "scale": {"domain": [1, 12], "nice": false, "zero": false}, "axis": {"orient": "bottom", "title": null, "values": [1,2,3,4,5,6,7,8,9,10,11,12], "labelExpr": "['J','F','M','A','M','J','J','A','S','O','N','D'][datum.value-1]", "tickSize": -8}},
    "y": {"field": "v", "type": "quantitative", "scale": {"domain": [0, 4e9], "nice": false}, "axis": {"title": "H2O2 [moles]", "values": [0,1e8,2e8,3e8,4e8,5e8,6e8,7e8,8e8,9e8,1e9,1.1e9,1.2e9,1.3e9,1.4e9,1.5e9,1.6e9,1.7e9,1.8e9,1.9e9,2e9,2.1e9,2.2e9,2.3e9,2.4e9,2.5e9,2.6e9,2.7e9,2.8e9,2.9e9,3e9,3.1e9,3.2e9,3.3e9,3.4e9,3.5e9,3.6e9,3.7e9,3.8e9,3.9e9,4e9], "labelExpr": "abs(datum.value/1e9-round(datum.value/1e9))<1e-6 ? ['0','1•10⁹','2•10⁹','3•10⁹','4•10⁹'][round(datum.value/1e9)] : ''", "tickSize": {"condition": {"test": "abs(datum.value/1e9-round(datum.value/1e9))<1e-6", "value": -9}, "value": -4}}},
    "color": {"field": "s", "type": "nominal", "scale": {"domain": ["black","purple","blue","cyan","green","lime","orange","red"], "range": ["#000000","#5c1aa8","#1f3fe6","#1ee4f0","#1e8f1e","#33e64a","#f5a623","#ee1c1c"]}, "legend": null}
   }},
  {"data": {"values": [{"t": "H₂O₂", "m": 4.04, "v": 4.98e8}]}, "mark": {"type": "text", "font": "Lato", "fontWeight": "bold", "fontSize": 62, "align": "left", "baseline": "alphabetic", "color": "black"},
   "encoding": {
    "x": {"field": "m", "type": "quantitative", "axis": {"orient": "top", "title": null, "labels": false, "values": [1,2,3,4,5,6,7,8,9,10,11,12], "tickSize": -8}},
    "y": {"field": "v", "type": "quantitative", "axis": {"orient": "right", "title": null, "labels": false, "values": [0,1e8,2e8,3e8,4e8,5e8,6e8,7e8,8e8,9e8,1e9,1.1e9,1.2e9,1.3e9,1.4e9,1.5e9,1.6e9,1.7e9,1.8e9,1.9e9,2e9,2.1e9,2.2e9,2.3e9,2.4e9,2.5e9,2.6e9,2.7e9,2.8e9,2.9e9,3e9,3.1e9,3.2e9,3.3e9,3.4e9,3.5e9,3.6e9,3.7e9,3.8e9,3.9e9,4e9], "tickSize": {"condition": {"test": "abs(datum.value/1e9-round(datum.value/1e9))<1e-6", "value": -9}, "value": -4}}},
    "text": {"field": "t"}
   }}
 ]},
{"width": 337, "height": 259, "resolve": {"axis": {"x": "independent", "y": "independent"}},
 "layer": [
  {"data": {"name": "JO1D"}, "mark": {"type": "line", "strokeWidth": 3},
   "encoding": {
    "x": {"field": "m", "type": "quantitative", "scale": {"domain": [1, 12], "nice": false, "zero": false}, "axis": {"orient": "bottom", "title": null, "values": [1,2,3,4,5,6,7,8,9,10,11,12], "labelExpr": "['J','F','M','A','M','J','J','A','S','O','N','D'][datum.value-1]", "tickSize": -8}},
    "y": {"field": "v", "type": "quantitative", "scale": {"domain": [0, 2e-5], "nice": false}, "axis": {"title": "J(O3->O1D) [1/s]", "values": [0,1e-6,2e-6,3e-6,4e-6,5e-6,6e-6,7e-6,8e-6,9e-6,1e-5,1.1e-5,1.2e-5,1.3e-5,1.4e-5,1.5e-5,1.6e-5,1.7e-5,1.8e-5,1.9e-5,2e-5], "labelExpr": "abs(datum.value/5e-6-round(datum.value/5e-6))<1e-6 ? ['0','5.0•10⁻⁶','1.0•10⁻⁵','1.5•10⁻⁵','2.0•10⁻⁵'][round(datum.value/5e-6)] : ''", "tickSize": {"condition": {"test": "abs(datum.value/5e-6-round(datum.value/5e-6))<1e-6", "value": -9}, "value": -4}}},
    "color": {"field": "s", "type": "nominal", "scale": {"domain": ["black","purple","blue","cyan","green","lime","orange","red"], "range": ["#000000","#5c1aa8","#1f3fe6","#1ee4f0","#1e8f1e","#33e64a","#f5a623","#ee1c1c"]}, "legend": null}
   }},
  {"data": {"values": [{"t": "J(O¹D\n)", "m": 2.8, "v": 2.49e-6}]}, "mark": {"type": "text", "font": "Lato", "fontWeight": "bold", "fontSize": 62, "align": "left", "baseline": "alphabetic", "lineBreak": "\n", "lineHeight": 79, "color": "black"},
   "encoding": {
    "x": {"field": "m", "type": "quantitative", "axis": {"orient": "top", "title": null, "labels": false, "values": [1,2,3,4,5,6,7,8,9,10,11,12], "tickSize": -8}},
    "y": {"field": "v", "type": "quantitative", "axis": {"orient": "right", "title": null, "labels": false, "values": [0,1e-6,2e-6,3e-6,4e-6,5e-6,6e-6,7e-6,8e-6,9e-6,1e-5,1.1e-5,1.2e-5,1.3e-5,1.4e-5,1.5e-5,1.6e-5,1.7e-5,1.8e-5,1.9e-5,2e-5], "tickSize": {"condition": {"test": "abs(datum.value/5e-6-round(datum.value/5e-6))<1e-6", "value": -9}, "value": -4}}},
    "text": {"field": "t"}
   }}
 ]},
{"width": 337, "height": 259, "resolve": {"axis": {"x": "independent", "y": "independent"}},
 "layer": [
  {"data": {"name": "JNO2"}, "mark": {"type": "line", "strokeWidth": 3},
   "encoding": {
    "x": {"field": "m", "type": "quantitative", "scale": {"domain": [1, 12], "nice": false, "zero": false}, "axis": {"orient": "bottom", "title": null, "values": [1,2,3,4,5,6,7,8,9,10,11,12], "labelExpr": "['J','F','M','A','M','J','J','A','S','O','N','D'][datum.value-1]", "tickSize": -8}},
    "y": {"field": "v", "type": "quantitative", "scale": {"domain": [0, 0.006], "nice": false}, "axis": {"title": "J(NO2) [1/s]", "values": [0,0.0002,0.0004,0.0006,0.0008,0.001,0.0012,0.0014,0.0016,0.0018,0.002,0.0022,0.0024,0.0026,0.0028,0.003,0.0032,0.0034,0.0036,0.0038,0.004,0.0042,0.0044,0.0046,0.0048,0.005,0.0052,0.0054,0.0056,0.0058,0.006], "labelExpr": "abs(datum.value/0.001-round(datum.value/0.001))<1e-6 ? ['0.000','0.001','0.002','0.003','0.004','0.005','0.006'][round(datum.value/0.001)] : ''", "tickSize": {"condition": {"test": "abs(datum.value/0.001-round(datum.value/0.001))<1e-6", "value": -9}, "value": -4}}},
    "color": {"field": "s", "type": "nominal", "scale": {"domain": ["black","purple","blue","cyan","green","lime","orange","red"], "range": ["#000000","#5c1aa8","#1f3fe6","#1ee4f0","#1e8f1e","#33e64a","#f5a623","#ee1c1c"]}, "legend": null}
   }},
  {"data": {"values": [{"t": "J(NO₂)", "m": 2.02, "v": 7.47e-4}]}, "mark": {"type": "text", "font": "Lato", "fontWeight": "bold", "fontSize": 62, "align": "left", "baseline": "alphabetic", "color": "black"},
   "encoding": {
    "x": {"field": "m", "type": "quantitative", "axis": {"orient": "top", "title": null, "labels": false, "values": [1,2,3,4,5,6,7,8,9,10,11,12], "tickSize": -8}},
    "y": {"field": "v", "type": "quantitative", "axis": {"orient": "right", "title": null, "labels": false, "values": [0,0.0002,0.0004,0.0006,0.0008,0.001,0.0012,0.0014,0.0016,0.0018,0.002,0.0022,0.0024,0.0026,0.0028,0.003,0.0032,0.0034,0.0036,0.0038,0.004,0.0042,0.0044,0.0046,0.0048,0.005,0.0052,0.0054,0.0056,0.0058,0.006], "tickSize": {"condition": {"test": "abs(datum.value/0.001-round(datum.value/0.001))<1e-6", "value": -9}, "value": -4}}},
    "text": {"field": "t"}
   }}
 ]}
],
"config": {
 "view": {"stroke": "black", "strokeWidth": 2},
 "axis": {"domain": false, "grid": false, "ticks": true, "tickColor": "black", "tickWidth": 1.5, "labelColor": "black", "labelFont": "DejaVu Sans", "labelFontSize": 21, "labelOverlap": false, "labelPadding": 22, "titleFont": "DejaVu Sans", "titleFontSize": 24, "titleFontWeight": "normal", "titleColor": "black", "titlePadding": 14},
 "axisX": {"labelFontSize": 25, "labelPadding": 21, "labelFlush": false}
}
}
